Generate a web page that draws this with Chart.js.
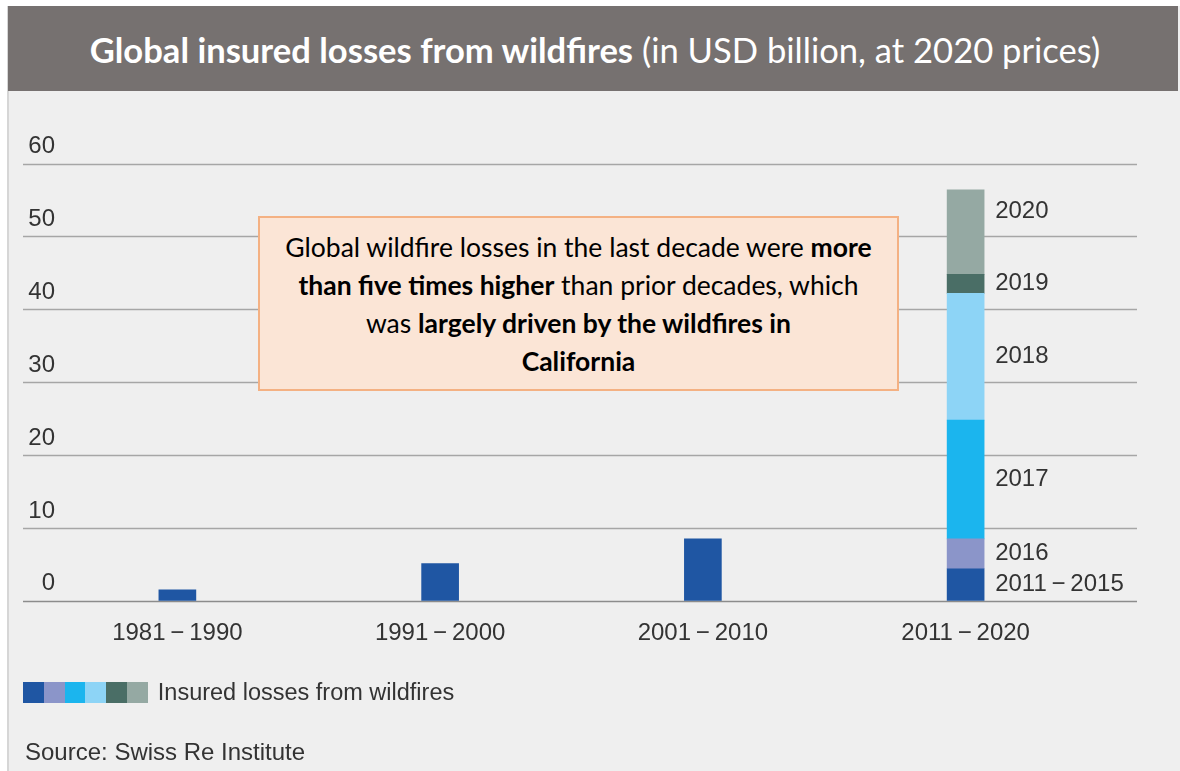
<!DOCTYPE html>
<html><head><meta charset="utf-8">
<script src="https://cdn.jsdelivr.net/npm/chart.js@4.4.1/dist/chart.umd.min.js"></script>
<style>
html,body{margin:0;padding:0;background:#fff;width:1180px;height:771px;overflow:hidden;position:relative;}
#panel{position:absolute;left:7px;top:6px;width:1173px;height:765px;background:#efefef;border-left:2px solid #d6d6d6;box-sizing:border-box;}
#header{position:absolute;left:8px;top:6px;width:1170px;height:85px;background:#767170;color:#fff;font-family:Lato,'Open Sans',sans-serif;font-size:34.6px;display:flex;align-items:center;justify-content:center;white-space:nowrap;}
#header span{position:relative;left:2px;top:1px;}
#cv{position:absolute;left:0;top:0;}
#note{position:absolute;left:258px;top:216px;width:641px;height:175px;background:#fbe5d6;border:2px solid #f4b183;box-sizing:border-box;display:flex;align-items:center;justify-content:center;text-align:center;font-family:Lato,'Open Sans',sans-serif;font-size:26.5px;line-height:38px;color:#000;white-space:nowrap;}
#legend{position:absolute;left:23px;top:682px;height:21px;display:flex;align-items:center;font-family:'Liberation Sans',Arial,sans-serif;font-size:23.5px;color:#333;}
#legend .sw{width:20.8px;height:21px;display:inline-block;}
#legend span.t{margin-left:10px;}
#source{position:absolute;left:25px;top:738px;font-family:'Liberation Sans',Arial,sans-serif;font-size:24px;color:#333;white-space:nowrap;}
</style></head>
<body>
<div id="panel"></div>
<div id="header"><span><b>Global insured losses from wildfires</b> (in USD billion, at 2020 prices)</span></div>
<canvas id="cv" width="1180" height="771"></canvas>
<div id="note"><div>Global wildfire losses in the last decade were <b>more</b><br><b>than five times higher</b> than prior decades, which<br>was <b>largely driven by the wildfires in</b><br><b>California</b></div></div>
<div id="legend"></div>
<div id="source">Source: Swiss Re Institute</div>
<script>
// ---- data ----
const categories = ['1981\u2009\u2212\u20091990', '1991\u2009\u2212\u20092000', '2001\u2009\u2212\u20092010', '2011\u2009\u2212\u20092020'];
const seriesLabels = ['2011\u2009\u2212\u20092015', '2016', '2017', '2018', '2019', '2020'];
const baseLosses = [1.5, 5.1, 8.5, 4.4];
const losses2016 = [null, null, null, 4.1];
const losses2017 = [null, null, null, 16.3];
const losses2018 = [null, null, null, 17.4];
const losses2019 = [null, null, null, 2.6];
const losses2020 = [null, null, null, 11.6];
const yTicks = [0, 10, 20, 30, 40, 50, 60];
const legendLabel = 'Insured losses from wildfires';
const seriesColors = ['#1f56a3', '#8b95c9', '#1bb5ee', '#8dd4f6', '#4a6e66', '#95a9a3'];

const seriesData = [baseLosses, losses2016, losses2017, losses2018, losses2019, losses2020];

// legend (html)
const lg = document.getElementById('legend');
seriesColors.forEach(c => { const s = document.createElement('span'); s.className = 'sw'; s.style.background = c; lg.appendChild(s); });
const lt = document.createElement('span'); lt.className = 't'; lt.textContent = legendLabel; lg.appendChild(lt);

const AXIS_FONT = {family: "'Liberation Sans', Arial, sans-serif", size: 24};
const TEXT_COLOR = '#333333';

const gridPlugin = {
  id: 'gridExt',
  beforeDatasetsDraw(chart) {
    const y = chart.scales.y, ctx = chart.ctx;
    ctx.save();
    yTicks.forEach(v => {
      const py = Math.round(y.getPixelForValue(v)) + 0.5;
      ctx.strokeStyle = v === 0 ? '#8c8c8c' : '#a6a6a6';
      ctx.lineWidth = 1.5;
      ctx.beginPath(); ctx.moveTo(23, py); ctx.lineTo(1137, py); ctx.stroke();
    });
    // y tick labels, placed above their grid lines
    ctx.font = `${AXIS_FONT.size}px ${AXIS_FONT.family}`;
    ctx.fillStyle = TEXT_COLOR;
    ctx.textAlign = 'right';
    ctx.textBaseline = 'middle';
    yTicks.forEach(v => {
      ctx.fillText(String(v), 55, y.getPixelForValue(v) - 17);
    });
    ctx.restore();
  }
};

const segLabelPlugin = {
  id: 'segLabels',
  afterDatasetsDraw(chart) {
    const ctx = chart.ctx;
    ctx.save();
    ctx.font = `${AXIS_FONT.size}px ${AXIS_FONT.family}`;
    ctx.fillStyle = TEXT_COLOR;
    ctx.textAlign = 'left';
    ctx.textBaseline = 'middle';
    const last = categories.length - 1;
    chart.data.datasets.forEach((ds, i) => {
      const el = chart.getDatasetMeta(i).data[last];
      if (!el || ds.data[last] == null) return;
      let cy = (el.y + el.base) / 2;
      if (i === chart.data.datasets.length - 1) cy -= 21;
      ctx.fillText(ds.label, el.x + 29.5, cy);
    });
    ctx.restore();
  }
};

new Chart(document.getElementById('cv'), {
  type: 'bar',
  data: {
    labels: categories,
    datasets: seriesData.map((d, i) => ({
      label: seriesLabels[i],
      data: d,
      backgroundColor: seriesColors[i],
      borderWidth: 0,
      barThickness: 37
    }))
  },
  options: {
    responsive: false,
    maintainAspectRatio: false,
    animation: false,
    layout: {padding: {left: 0, right: 83, top: 163.6, bottom: 105.4}},
    plugins: {legend: {display: false}, tooltip: {enabled: false}},
    scales: {
      x: {
        stacked: true,
        grid: {display: false, drawTicks: false},
        border: {display: false},
        ticks: {font: AXIS_FONT, color: TEXT_COLOR, padding: 18}
      },
      y: {
        stacked: true,
        min: 0, max: 60,
        afterFit(s) { s.width = 46; },
        afterBuildTicks(s) { s.ticks = yTicks.map(v => ({value: v})); },
        grid: {display: false, drawTicks: false},
        border: {display: false},
        ticks: {display: false}
      }
    }
  },
  plugins: [gridPlugin, segLabelPlugin]
});
</script>
</body></html>
